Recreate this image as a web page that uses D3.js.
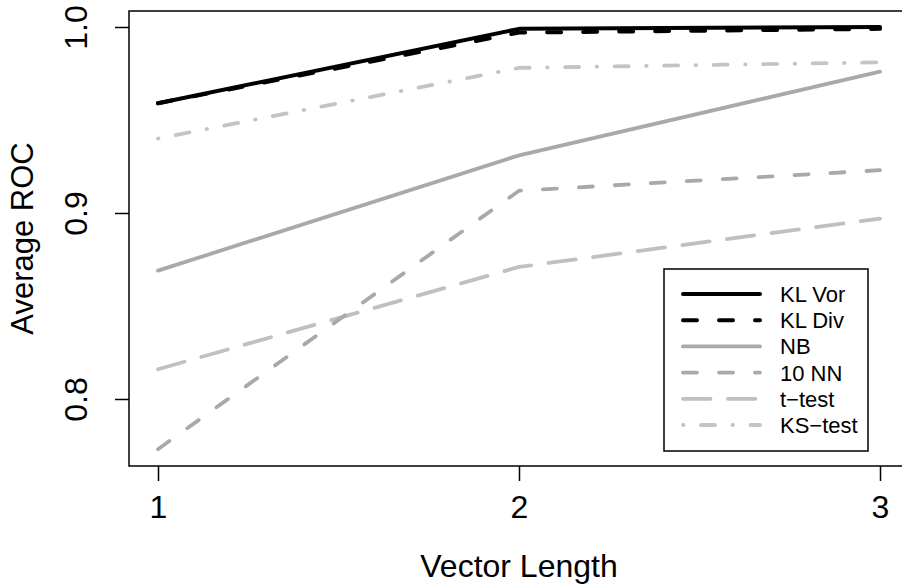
<!DOCTYPE html>
<html>
<head>
  <script src="https://d3js.org/d3.v7.min.js"></script>
  <style>
    body { margin: 0; background: #fff; }
    svg { display: block; font-family: "Liberation Sans", Arial, sans-serif; }
  </style>
</head>
<body>
  <svg id="chart" width="902" height="584"></svg>
  <script type="text/javascript">
    /* data */
    var vectorLength = [1, 2, 3];
    var methods = ["KL Vor", "KL Div", "NB", "10 NN", "t\u2212test", "KS\u2212test"];
    var klVor  = [0.959, 0.999, 1.000];
    var klDiv  = [0.959, 0.997, 0.999];
    var nb     = [0.869, 0.931, 0.976];
    var tenNN  = [0.773, 0.912, 0.923];
    var tTest  = [0.816, 0.871, 0.897];
    var ksTest = [0.940, 0.978, 0.981];
    var yTicks = [0.8, 0.9, 1.0];

    /* line styles, R lty 1/2/1/2/5/4 */
    var styles = [
      { color: "#000000", width: 4,   dash: null },
      { color: "#000000", width: 4,   dash: "14,22" },
      { color: "#a9a9a9", width: 3.8, dash: null },
      { color: "#a9a9a9", width: 3.8, dash: "14,22" },
      { color: "#c0c0c0", width: 3.8, dash: "27.5,17.5" },
      { color: "#c4c4c4", width: 3.8, dash: "0.5,17.5,14,17.5" }
    ];
    var series = [klVor, klDiv, nb, tenNN, tTest, ksTest];

    var svg = d3.select("#chart");

    // plot region (R pads 4% on each side, right edge runs off the page)
    var box = { left: 129, right: 909, top: 11, bottom: 466 };

    var x = d3.scaleLinear().domain([1, 3]).range([158, 880]);
    var y = d3.scaleLinear().domain([0.8, 1.0]).range([399, 27]);

    /* series lines, drawn back to front */
    var line = d3.line()
                 .x(function(d, i) { return x(vectorLength[i]); })
                 .y(function(d) { return y(d); });

    var order = [5, 4, 3, 2, 1, 0];
    svg.append("g")
       .selectAll("path")
       .data(order)
       .enter().append("path")
       .attr("d", function(k) { return line(series[k]); })
       .attr("fill", "none")
       .attr("stroke", function(k) { return styles[k].color; })
       .attr("stroke-width", function(k) { return styles[k].width; })
       .attr("stroke-dasharray", function(k) { return styles[k].dash; })
       .attr("stroke-linecap", "round")
       .attr("stroke-linejoin", "round");

    /* plot box */
    svg.append("rect")
       .attr("x", box.left)
       .attr("y", box.top)
       .attr("width", box.right - box.left)
       .attr("height", box.bottom - box.top)
       .attr("fill", "none")
       .attr("stroke", "#000")
       .attr("stroke-width", 1.5);

    /* x axis */
    var xAxis = svg.append("g")
       .attr("transform", "translate(0," + box.bottom + ")")
       .call(d3.axisBottom(x).tickValues(vectorLength).tickSize(15)
               .tickFormat(d3.format("d")));
    xAxis.select(".domain").remove();
    xAxis.selectAll(".tick line").attr("stroke", "#000").attr("stroke-width", 1.5);
    xAxis.selectAll(".tick text")
         .attr("y", 52).attr("dy", null)
         .attr("fill", "#000")
         .style("font-size", "32px")
         .style("font-family", "Liberation Sans, Arial, sans-serif");

    /* y axis, labels rotated like R's default las=0 */
    var yAxis = svg.append("g")
       .attr("transform", "translate(" + box.left + ",0)")
       .call(d3.axisLeft(y).tickValues(yTicks).tickSize(14)
               .tickFormat(d3.format(".1f")));
    yAxis.select(".domain").remove();
    yAxis.selectAll(".tick line").attr("stroke", "#000").attr("stroke-width", 1.5);
    yAxis.selectAll(".tick text")
         .attr("transform", "rotate(-90)")
         .attr("x", 0).attr("y", -42).attr("dy", null)
         .attr("text-anchor", "middle")
         .attr("fill", "#000")
         .style("font-size", "32px")
         .style("font-family", "Liberation Sans, Arial, sans-serif");

    /* axis titles */
    svg.append("text")
       .attr("x", (box.left + box.right) / 2)
       .attr("y", 577)
       .attr("text-anchor", "middle")
       .style("font-size", "32px")
       .text("Vector Length");

    svg.append("text")
       .attr("transform", "translate(33," + (box.top + box.bottom) / 2 + ") rotate(-90)")
       .attr("text-anchor", "middle")
       .style("font-size", "31px")
       .text("Average ROC");

    /* legend */
    var legend = svg.append("g");
    legend.append("rect")
          .attr("x", 664).attr("y", 269)
          .attr("width", 204).attr("height", 182)
          .attr("fill", "#fff")
          .attr("stroke", "#000")
          .attr("stroke-width", 1.5);

    var rows = legend.selectAll("g.row")
          .data(methods)
          .enter().append("g")
          .attr("class", "row")
          .attr("transform", function(d, i) {
            return "translate(0," + (294 + i * 26.2) + ")";
          });

    rows.append("line")
        .attr("x1", 683).attr("x2", 760)
        .attr("y1", 0).attr("y2", 0)
        .attr("stroke", function(d, i) { return styles[i].color; })
        .attr("stroke-width", function(d, i) { return styles[i].width; })
        .attr("stroke-dasharray", function(d, i) { return styles[i].dash; })
        .attr("stroke-linecap", "round");

    rows.append("text")
        .attr("x", 780).attr("y", 8)
        .style("font-size", "22px")
        .text(function(d) { return d; });
  </script>
</body>
</html>
